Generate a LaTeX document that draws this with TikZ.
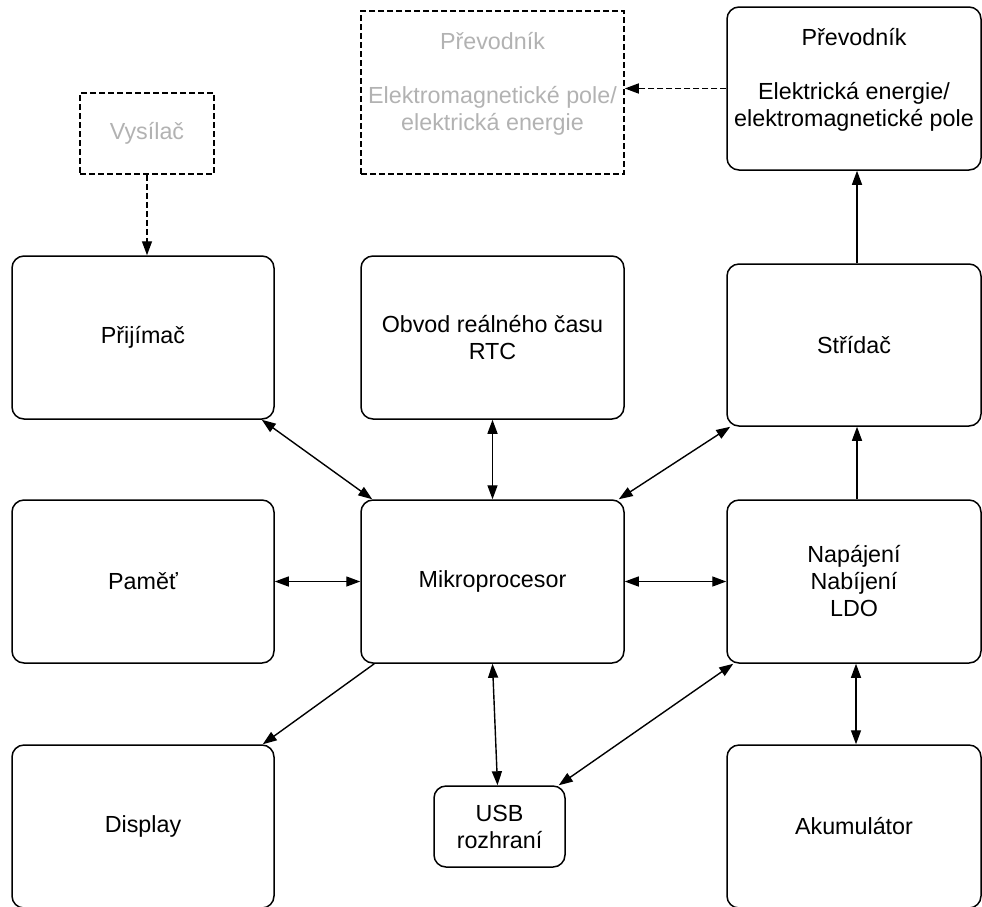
\documentclass[tikz,border=0pt]{standalone}
\usepackage{fontspec}
\setmainfont{Liberation Sans}
\usetikzlibrary{arrows.meta}
\definecolor{faded}{RGB}{178,178,178}
\begin{document}
\begin{tikzpicture}[x=1pt,y=-1pt,
  txt/.style={align=center, inner sep=0pt, font=\fontsize{23.3}{27}\selectfont},
  box/.style={txt, draw, line width=1.5pt, rounded corners=12pt},
  ghost/.style={txt, draw, line width=1.5pt, dash pattern=on 6pt off 3pt, text=faded},
  blk/.tip={Triangle[length=14pt,width=10pt]},
  link/.style={line width=1.4pt},
  onearrow/.style={link, -{blk}},
  twoarrow/.style={link, {blk}-{blk}},
  dlink/.style={onearrow, dash pattern=on 6pt off 3pt},
]
\useasboundingbox (0,0) rectangle (982,906);

% upper row: transmitter and the two converters
\node[ghost, minimum width=134pt, minimum height=81pt] (vys) at (147,133.5) {Vysílač};
\node[ghost, minimum width=263pt, minimum height=163pt] (pvg) at (492.5,92.5) {};
\node[txt, text=faded] (pvgtxt) at ([yshift=9pt]pvg.center) {Převodník\\[27pt]Elektromagnetické pole/\\elektrická energie};
\node[box, minimum width=254pt, minimum height=163pt] (pv) at (854,88.5) {};
\node[txt] (pvtxt) at ([yshift=9pt]pv.center) {Převodník\\[27pt]Elektrická energie/\\elektromagnetické pole};

% second row
\node[box, minimum width=262pt, minimum height=163pt] (prij) at (143,337.5) {Přijímač};
\node[box, minimum width=263pt, minimum height=163pt] (rtc) at (492.5,337.5) {Obvod reálného času\\RTC};
\node[box, minimum width=254pt, minimum height=162pt] (str) at (854,345) {Střídač};

% third row
\node[box, minimum width=262pt, minimum height=163pt] (pam) at (143,581.5) {Paměť};
\node[box, minimum width=263pt, minimum height=163pt] (mcu) at (492.5,581.5) {Mikroprocesor};
\node[box, minimum width=254pt, minimum height=163pt] (nap) at (854,581.5) {Napájení\\Nabíjení\\LDO};

% bottom row
\node[box, minimum width=262pt, minimum height=163pt] (disp) at (143,826.5) {Display};
\node[box, minimum width=131pt, minimum height=81pt] (usb) at (499.5,826.5) {USB\\rozhraní};
\node[box, minimum width=254pt, minimum height=163pt] (akum) at (854,826.5) {Akumulátor};

% dashed links
\draw[dlink] (vys.south) -- (vys.south |- prij.north);
\draw[dlink] (pv.west) -- (pv.west -| pvg.east);

% power path
\draw[onearrow] ([xshift=3pt]str.north) -- ([xshift=3pt]pv.south);
\draw[onearrow] ([xshift=3pt]nap.north) -- ([xshift=3pt]str.south);
\draw[twoarrow] ([xshift=2pt]nap.south) -- ([xshift=2pt]akum.north);

% microprocessor links
\draw[twoarrow] ([xshift=-13pt]prij.south east) -- ([xshift=12pt]mcu.north west);
\draw[twoarrow] (rtc.south) -- (mcu.north);
\draw[twoarrow] ([xshift=-6pt]mcu.north east) -- ([xshift=4pt]str.south west);
\draw[twoarrow] (pam.east) -- (mcu.west);
\draw[twoarrow] (mcu.east) -- (nap.west);
\draw[onearrow] ([xshift=14pt]mcu.south west) -- ([xshift=-12pt]disp.north east);
\draw[twoarrow] (mcu.south) -- ([xshift=-2pt]usb.north);
\draw[twoarrow] ([xshift=7pt]nap.south west) -- ([xshift=-7pt]usb.north east);
\end{tikzpicture}
\end{document}
